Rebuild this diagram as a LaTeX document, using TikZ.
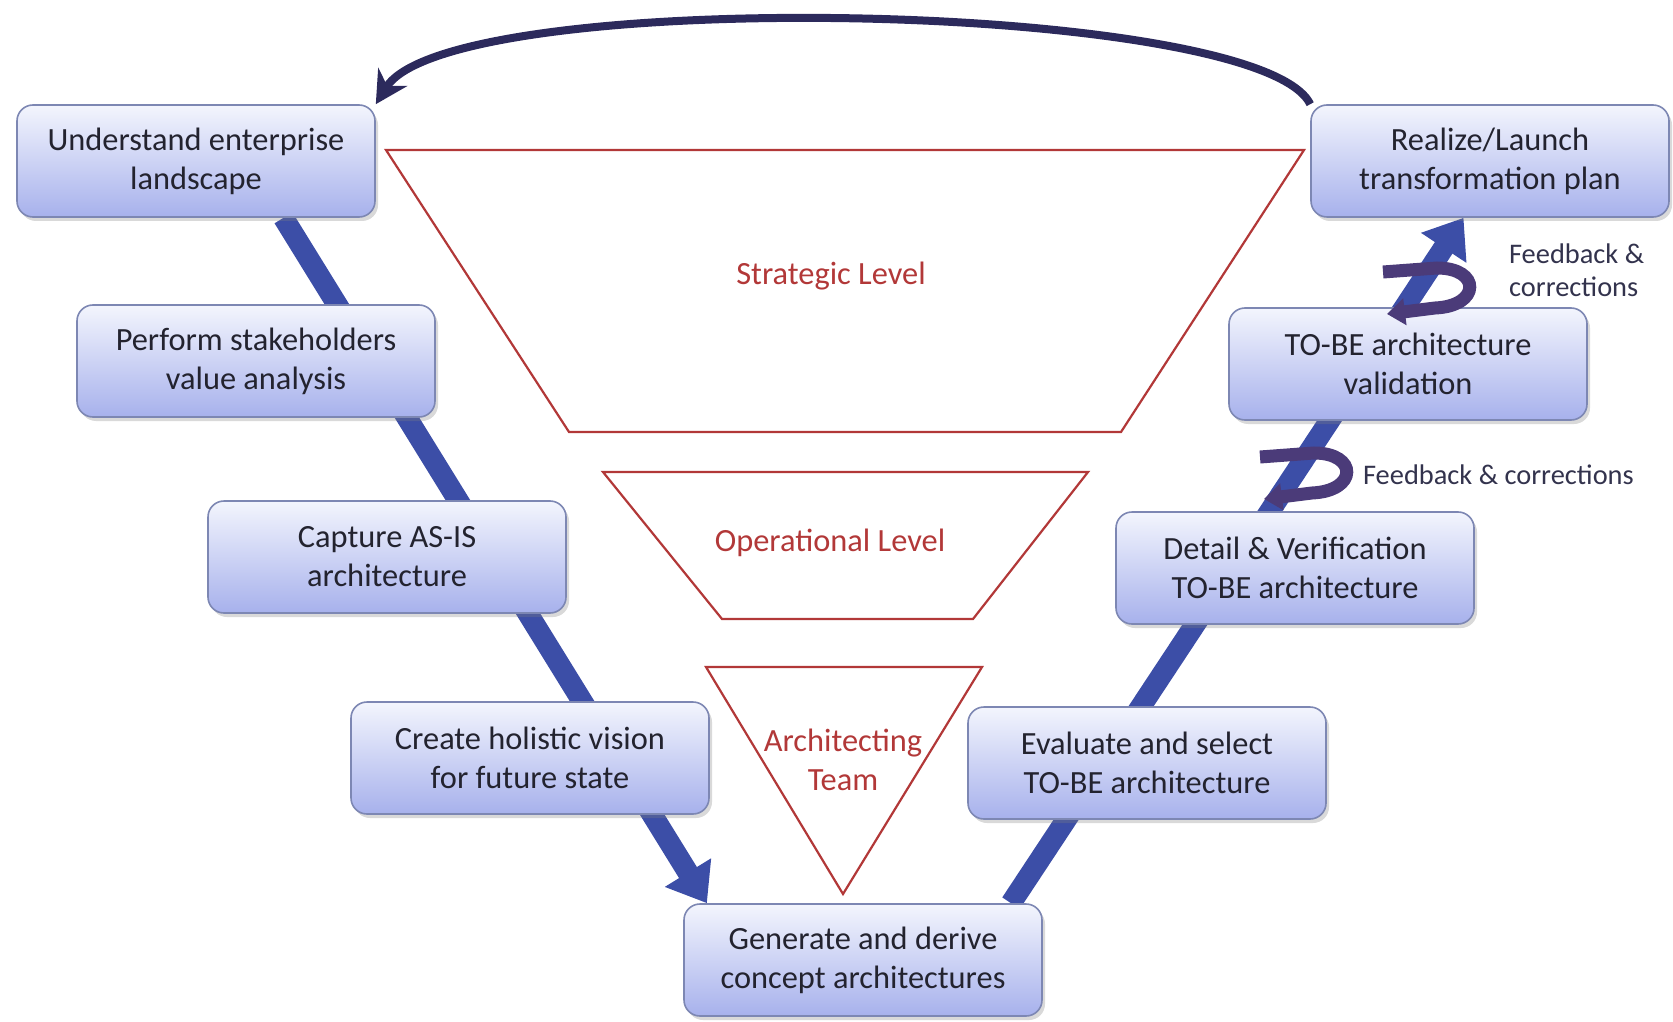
\documentclass[tikz,border=0pt]{standalone}
\usepackage{fontspec}
\setmainfont{Carlito}
\usepackage{tikz}
\usetikzlibrary{calc,arrows.meta,positioning,shadows}

\definecolor{boxtop}{HTML}{F3F5FD}
\definecolor{boxbot}{HTML}{A7B1EC}
\definecolor{boxline}{HTML}{7D87B3}
\definecolor{flowblue}{HTML}{3C4EA7}
\definecolor{loopnavy}{HTML}{2C2A5C}
\definecolor{swirlc}{HTML}{4B3B79}
\definecolor{levelred}{HTML}{B23838}
\definecolor{txt}{HTML}{23232F}
\definecolor{fbtxt}{HTML}{33334D}

\pgfdeclarelayer{bg}
\pgfsetlayers{bg,main}

\begin{document}
\begin{tikzpicture}[x=0.5pt,y=-0.5pt,
    box/.style={rectangle,rounded corners=8pt,draw=boxline,line width=0.8pt,
      top color=boxtop,bottom color=boxbot,minimum width=179pt,minimum height=56pt,
      align=center,text=txt,font=\fontsize{16.2}{19.5}\selectfont,
      drop shadow={shadow xshift=1.5pt,shadow yshift=-2pt,opacity=0.3,fill=gray}},
    lvl/.style={draw=levelred,line width=1.1pt},
    lvltext/.style={text=levelred,align=center,font=\fontsize{16.2}{19.5}\selectfont},
    flow/.style={flowblue,line width=10.5pt,-{Triangle[width=26pt,length=18pt]}},
    swirl/.style={swirlc,line width=6.5pt,-{Triangle[width=13pt,length=9pt]}},
    fb/.style={text=fbtxt,align=left,font=\fontsize{14.2}{16.5}\selectfont}]
    \useasboundingbox (0,0) rectangle (1673,1021);

    % levels
    \draw[lvl] (386,150) -- (1304,150) -- (1121,432) -- (569,432) -- cycle;
    \draw[lvl] (603,472) -- (1088,472) -- (973,619) -- (722,619) -- cycle;
    \draw[lvl] (706,667) -- (982,667) -- (843,894) -- cycle;
    \node[lvltext] (strat) at (831,276) {Strategic Level};
    \node[lvltext] (oper) at (830,543) {Operational Level};
    \node[lvltext] (team) at (843,760) {Architecting\\Team};

    % steps
    \node[box] (b1) at (196,161) {Understand enterprise\\landscape};
    \node[box] (b2) at (256,361) {Perform stakeholders\\value analysis};
    \node[box] (b3) at (387,557) {Capture AS-IS\\architecture};
    \node[box] (b4) at (530,758) {Create holistic vision\\for future state};
    \node[box] (b5) at (863,960) {Generate and derive\\concept architectures};
    \node[box] (b6) at (1147,763) {Evaluate and select\\TO-BE architecture};
    \node[box] (b7) at (1295,568) {Detail \& Verification\\TO-BE architecture};
    \node[box] (b8) at (1408,364) {TO-BE architecture\\validation};
    \node[box] (b9) at (1490,161) {Realize/Launch\\transformation plan};

    \begin{pgfonlayer}{bg}
      \draw[flow] (b1.-33) -- (b5.160);
      \draw[flow] (b5.21) -- (b9.-115);
    \end{pgfonlayer}

    % loop back to start
    \draw[loopnavy,line width=4pt,-{Stealth[width=17pt,length=16pt]}]
      (b9.north west) .. controls (1260,0) and (450,-15) .. (b1.north east);

    % feedback swirls
    \coordinate (fb1) at (1427,288);
    \coordinate (fb2) at (1304,473);
    \foreach \c in {fb1,fb2} {
      \draw[swirl] ($(\c)+(-44,-16)$) -- ($(\c)+(10,-20)$)
        .. controls ($(\c)+(54,-20)$) and ($(\c)+(54,18)$) .. ($(\c)+(8,20)$)
        -- ($(\c)+(-40,26)$);
    }
    \node[fb,anchor=west] (fbl1) at (1502,270) {Feedback \&\\corrections};
    \node[fb,anchor=west] (fbl2) at (1356,475) {Feedback \& corrections};
  \end{tikzpicture}
\end{document}
